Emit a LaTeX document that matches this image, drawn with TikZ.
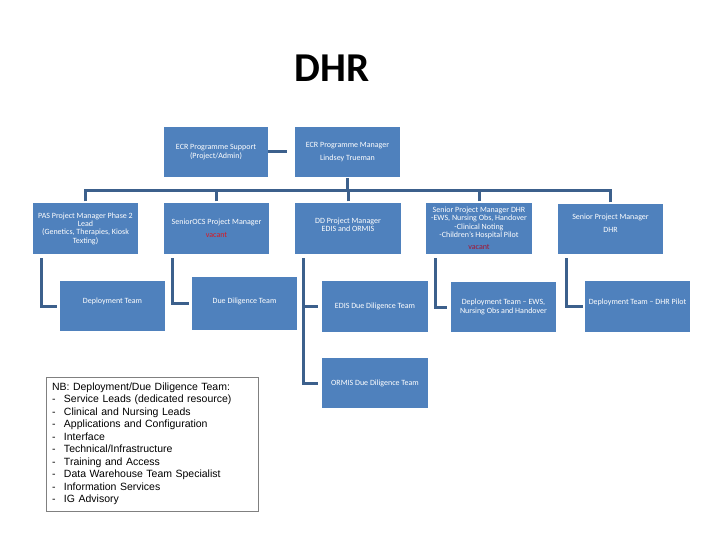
\documentclass[tikz,border=0pt]{standalone}
\usepackage{fontspec}
\setmainfont{Carlito}
\newfontfamily\arialf{Liberation Sans}
\definecolor{boxblue}{RGB}{79,129,189}
\definecolor{connblue}{RGB}{60,96,140}
\definecolor{vacred}{RGB}{215,25,35}
\definecolor{vacdark}{RGB}{165,20,50}
\definecolor{nbgray}{RGB}{128,128,128}
\begin{document}
\begin{tikzpicture}[x=1pt,y=-1pt,
  box/.style={fill=boxblue, draw=none, text=white, align=center, inner sep=1pt,
    font=\fontsize{8}{8.3}\selectfont},
  conn/.style={draw=connblue, line width=3pt},
  up/.style={text depth=#1},
]
\useasboundingbox (0,0) rectangle (720,540);

\node[font=\bfseries\fontsize{41}{41}\selectfont, anchor=base] (title) at (332,82) {DHR};

% top row
\node[box, minimum width=104pt, minimum height=50pt] (sup) at (216,152) {ECR Programme Support\\(Project/Admin)};
\node[box, minimum width=105pt, minimum height=50pt] (mgr) at (347.5,152) {ECR Programme Manager\\[4.5pt]Lindsey Trueman};

% second row
\node[box, minimum width=105pt, minimum height=51pt] (pas) at (85.5,228.5) {PAS Project Manager Phase 2\\Lead\\(Genetics, Therapies, Kiosk\\Texting)};
\node[box, minimum width=105pt, minimum height=51pt] (ocs) at (216.5,228.5) {SeniorOCS Project Manager\\[4.7pt]\textcolor{vacred}{vacant}};
\node[box, minimum width=106pt, minimum height=51pt, up=8pt] (dd) at (348,228.5) {DD Project Manager\\EDIS and ORMIS};
\node[box, minimum width=106pt, minimum height=51pt] (spm) at (479,228.5) {Senior Project Manager DHR\\-EWS, Nursing Obs, Handover\\-Clinical Noting\\-Children’s Hospital Pilot\\[4pt]\textcolor{vacdark}{vacant}};
\node[box, minimum width=105pt, minimum height=50pt, up=11pt] (spr) at (610.5,229) {Senior Project Manager\\[4.7pt]DHR};

% third row
\node[box, minimum width=105pt, minimum height=50pt, up=10pt] (dep) at (112.5,306) {Deployment Team};
\node[box, minimum width=105pt, minimum height=53pt, up=5pt] (ddt) at (244.5,303.5) {Due Diligence Team};
\node[box, minimum width=106pt, minimum height=51pt] (edis) at (375,306.5) {EDIS Due Diligence Team};
\node[box, minimum width=105pt, minimum height=50pt] (ews) at (503.5,307) {Deployment Team – EWS,\\Nursing Obs and Handover};
\node[box, minimum width=105pt, minimum height=51pt, up=10pt] (pil) at (637.5,306.5) {Deployment Team – DHR Pilot};
\node[box, minimum width=106pt, minimum height=50pt] (orm) at (375,383) {ORMIS Due Diligence Team};

% note box
\node[draw=nbgray, line width=0.8pt, fill=white, minimum width=212pt, minimum height=134pt,
  text width=200pt, align=left, inner xsep=6pt, inner ysep=2pt,
  font=\arialf\fontsize{10.5}{12.5}\selectfont] (nb) at (152,444) {%
NB: Deployment/Due Diligence Team:\\
\makebox[12pt][l]{-}Service Leads (dedicated resource)\\
\makebox[12pt][l]{-}Clinical and Nursing Leads\\
\makebox[12pt][l]{-}Applications and Configuration\\
\makebox[12pt][l]{-}Interface\\
\makebox[12pt][l]{-}Technical/Infrastructure\\
\makebox[12pt][l]{-}Training and Access\\
\makebox[12pt][l]{-}Data Warehouse Team Specialist\\
\makebox[12pt][l]{-}Information Services\\
\makebox[12pt][l]{-}IG Advisory};

% connectors
\coordinate (barY) at (0,191);
\draw[conn] (sup.east) -- (mgr.west) [shorten >=8pt];
\draw[conn, shorten <=1pt] (mgr.south) -- (mgr.south |- barY);
\draw[conn, line cap=rect] (pas.north |- barY) -- (spr.north |- barY);
\foreach \n in {pas,ocs,dd,spm,spr}
  \draw[conn, shorten <=1.5pt] (\n.north) -- (\n.north |- barY);

\draw[conn, shorten >=3pt, shorten <=4pt] ([xshift=9pt]pas.south west) |- (dep.west);
\draw[conn, shorten >=3pt, shorten <=4pt] ([xshift=9pt]ocs.south west) |- (ddt.west);
\draw[conn, shorten >=4pt, shorten <=4pt] ([xshift=9pt]dd.south west) |- (edis.west);
\draw[conn, shorten >=4pt] ([xshift=9pt]dd.south west |- edis.west) |- (orm.west);
\draw[conn, shorten >=4pt, shorten <=4pt] ([xshift=10pt]spm.south west) |- (ews.west);
\draw[conn, shorten >=2pt, shorten <=4pt] ([xshift=9pt]spr.south west) |- (pil.west);
\end{tikzpicture}
\end{document}
